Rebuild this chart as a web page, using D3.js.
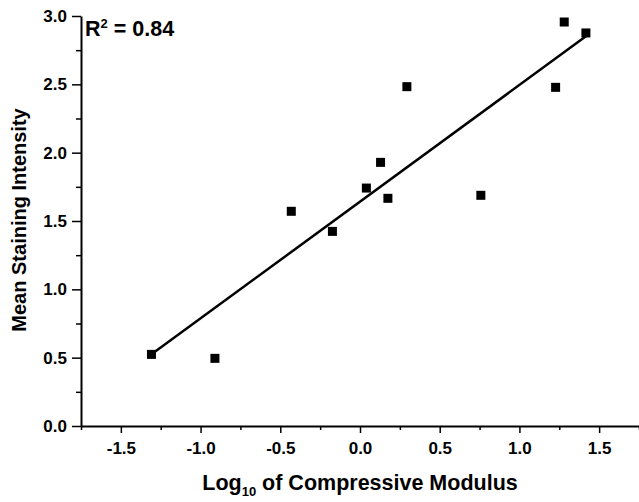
<!DOCTYPE html>
<html>
<head>
<meta charset="utf-8">
<script src="https://cdn.jsdelivr.net/npm/d3@7"></script>
<style>
  html, body { margin: 0; padding: 0; background: #fff; }
  svg { display: block; }
  text { font-family: Arial, "Liberation Sans", Helvetica, sans-serif; font-weight: bold; fill: #000; }
</style>
</head>
<body>
<svg id="chart" width="639" height="502"></svg>
<script>
// ---- data ----
const logModulus = [-1.308, -0.910, -0.431, -0.173, 0.040, 0.129, 0.175, 0.294, 0.758, 1.227, 1.281, 1.417];
const stainIntensity = [0.524, 0.495, 1.571, 1.424, 1.741, 1.929, 1.666, 2.483, 1.688, 2.478, 2.956, 2.876];
const xMajorTicks = [-1.5, -1.0, -0.5, 0.0, 0.5, 1.0, 1.5];
const xMinorTicks = [-1.75, -1.25, -0.75, -0.25, 0.25, 0.75, 1.25, 1.75];
const yMajorTicks = [0.0, 0.5, 1.0, 1.5, 2.0, 2.5, 3.0];
const yMinorTicks = [0.25, 0.75, 1.25, 1.75, 2.25, 2.75];
const r2Label = "0.84";

const svg = d3.select("#chart");
const x = d3.scaleLinear().domain([-1.75, 1.75]).range([81, 639]);
const y = d3.scaleLinear().domain([0, 3]).range([426, 16]);

// minor ticks
svg.append("g").attr("transform", `translate(0,${y(0)})`)
  .call(d3.axisBottom(x).tickValues(xMinorTicks).tickSize(4).tickSizeOuter(0).tickFormat(""))
  .call(g => g.select(".domain").remove())
  .call(g => g.selectAll("line").attr("stroke-width", 1.5));
svg.append("g").attr("transform", `translate(${x(-1.75)},0)`)
  .call(d3.axisLeft(y).tickValues(yMinorTicks).tickSize(5).tickSizeOuter(0).tickFormat(""))
  .call(g => g.select(".domain").remove())
  .call(g => g.selectAll("line").attr("stroke-width", 1.5));

// major x axis
const gx = svg.append("g").attr("transform", `translate(0,${y(0)})`)
  .call(d3.axisBottom(x).tickValues(xMajorTicks).tickSize(7).tickSizeOuter(0).tickPadding(9)
    .tickFormat(d3.format(".1f")));
gx.select(".domain").attr("stroke-width", 2);
gx.selectAll(".tick line").attr("stroke-width", 1.5);
gx.selectAll(".tick text").style("font-size", "17px").attr("fill", "#000")
  .style("font-family", "Arial, 'Liberation Sans', sans-serif").style("font-weight", "bold")
  .text(d => d3.format(".1f")(d).replace("−", "-"));

// major y axis
const gy = svg.append("g").attr("transform", `translate(${x(-1.75)},0)`)
  .call(d3.axisLeft(y).tickValues(yMajorTicks).tickSize(9).tickSizeOuter(0).tickPadding(5)
    .tickFormat(d3.format(".1f")));
gy.select(".domain").attr("stroke-width", 2);
gy.selectAll(".tick line").attr("stroke-width", 1.5);
gy.selectAll(".tick text").style("font-size", "17px").attr("fill", "#000")
  .style("font-family", "Arial, 'Liberation Sans', sans-serif").style("font-weight", "bold");

// linear regression from the data
const n = logModulus.length;
const mx = d3.mean(logModulus), my = d3.mean(stainIntensity);
let sxy = 0, sxx = 0;
for (let i = 0; i < n; i++) {
  sxy += (logModulus[i] - mx) * (stainIntensity[i] - my);
  sxx += (logModulus[i] - mx) ** 2;
}
const slope = sxy / sxx, intercept = my - slope * mx;
const xExt = d3.extent(logModulus);
const fitPts = xExt.map(v => [v, intercept + slope * v]);
svg.append("path")
  .attr("d", d3.line().x(d => x(d[0])).y(d => y(d[1]))(fitPts))
  .attr("stroke", "#000").attr("stroke-width", 2.5).attr("fill", "none");

// points
const s = 9;
svg.append("g").selectAll("rect").data(d3.range(n)).join("rect")
  .attr("x", i => x(logModulus[i]) - s / 2)
  .attr("y", i => y(stainIntensity[i]) - s / 2)
  .attr("width", s).attr("height", s).attr("fill", "#000");

// R^2 label
const r2 = svg.append("text").attr("x", 85).attr("y", 36).style("font-size", "21.5px");
r2.append("tspan").text("R");
r2.append("tspan").attr("dy", -8).style("font-size", "13px").text("2");
r2.append("tspan").attr("dy", 8).text(" = " + r2Label);

// axis titles
const xt = svg.append("text").attr("x", 360).attr("y", 490).attr("text-anchor", "middle").style("font-size", "21.5px");
xt.append("tspan").text("Log");
xt.append("tspan").attr("dy", 6).style("font-size", "13px").text("10");
xt.append("tspan").attr("dy", -6).text(" of Compressive Modulus");

svg.append("text")
  .attr("transform", "translate(26,220) rotate(-90)")
  .attr("text-anchor", "middle").style("font-size", "20px")
  .text("Mean Staining Intensity");
</script>
</body>
</html>
